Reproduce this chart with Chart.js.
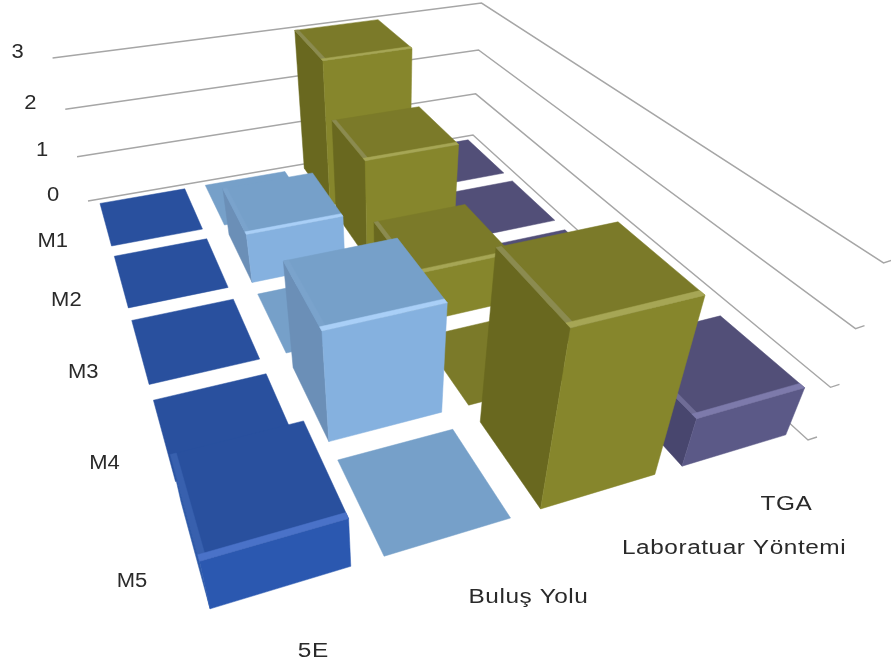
<!DOCTYPE html>
<html><head><meta charset="utf-8">
<style>html,body{margin:0;padding:0;background:#fff}canvas{display:block;filter:blur(0.5px)}</style>
<script src="https://cdn.jsdelivr.net/npm/chart.js@4/dist/chart.umd.js"></script>
</head><body><div style="width:891px;height:665px"><canvas id="c" width="891" height="665"></canvas></div>
<script>
const categories = ['M1','M2','M3','M4','M5'];
const seriesNames = ['5E','Buluş Yolu','Laboratuar Yöntemi','TGA'];
const values5E  = [0,0,0,0,0.9];
const valuesBY  = [0,1,0,2,0];
const valuesLab = [3,2,1,0,3];
const valuesTGA = [0,0,0,0,0.9];
const palette = [
 {top:'#29509e',front:'#2b58b0',left:'#2f5aa8',hi:'#4a72c8',hl:'#3860ae'},
 {top:'#76a0c9',front:'#85b1df',left:'#6b8fb7',hi:'#a9cff7',hl:'#7aa3cc'},
 {top:'#7b7a29',front:'#86862c',left:'#69681f',hi:'#a6a655',hl:'#8b8b50'},
 {top:'#524f78',front:'#5b5987',left:'#48466e',hi:'#7d7aab',hl:'#6f6c96'}
];
// camera: floor corners and vertical vanishing point
const floor = [[88,201],[473,135],[808,440],[195,628]];
const vanish = [390,1420], lift = -0.035;
const gapU = 0.1, gapV = 0.09;
function homog(q){
 const [x0,y0]=q[0],[x1,y1]=q[1],[x2,y2]=q[2],[x3,y3]=q[3];
 const dx1=x1-x2,dx2=x3-x2,dy1=y1-y2,dy2=y3-y2,sx=x0-x1+x2-x3,sy=y0-y1+y2-y3;
 const den=dx1*dy2-dx2*dy1,g=(sx*dy2-dx2*sy)/den,h=(dx1*sy-sx*dy1)/den;
 return {a:x1-x0+g*x1,b:x3-x0+h*x3,c:x0,d:y1-y0+g*y1,e:y3-y0+h*y3,f:y0,g,h};
}
const H = homog(floor);
function P(u,v,k){
 const s=u/seriesNames.length,t=v/categories.length,z=lift*k;
 const w=H.g*s+H.h*t+1+z;
 return [(H.a*s+H.b*t+H.c+z*vanish[0])/w,(H.d*s+H.e*t+H.f+z*vanish[1])/w];
}
function poly(ctx,pts,fill){
 ctx.beginPath();pts.forEach((p,i)=>i?ctx.lineTo(p[0],p[1]):ctx.moveTo(p[0],p[1]));ctx.closePath();
 ctx.fillStyle=fill;ctx.fill();ctx.strokeStyle=fill;ctx.lineWidth=0.5;ctx.stroke();
}
function label(ctx,txt,x,y,align,sx,spacing){
 ctx.save();ctx.translate(x,y);ctx.scale(sx,1);ctx.font='20px "Liberation Sans"';ctx.fillStyle='#2a2a2a';
 ctx.letterSpacing=spacing||'0px';
 ctx.textAlign=align;ctx.textBaseline='middle';ctx.fillText(txt,0,0);ctx.restore();
}
const scene3d = {
 id:'scene3d',
 beforeDatasetsDraw(chart){
  const ctx=chart.ctx,xs=chart.scales.x,ys=chart.scales.y;
  const nC=categories.length,nS=seriesNames.length;
  const maxH=ys.max;
  const hOf=val=>(ys.bottom-ys.getPixelForValue(val))/(ys.bottom-ys.top)*maxH;
  const vOf=j=>(xs.getPixelForValue(j)-xs.left)/xs.width*nC;
  // walls
  ctx.save();ctx.strokeStyle='#a6a6a6';ctx.lineWidth=1.4;
  ys.ticks.forEach(t=>{
   const k=hOf(t.value),A=P(0,0,k),B=P(nS,0,k),C=P(nS,nC,k);
   ctx.beginPath();ctx.moveTo(A[0],A[1]);ctx.lineTo(B[0],B[1]);ctx.lineTo(C[0],C[1]);ctx.lineTo(C[0]+9,C[1]-3);ctx.stroke();
   label(ctx,String(t.value),A[0]-35,A[1]-6,'center',1.1);
  });
  ctx.restore();
  // bars, back rows first and right to left within each row
  for(let j=0;j<nC;j++){
   for(let i=nS-1;i>=0;i--){
    const val=chart.data.datasets[i].data[j],c=palette[i];
    const k=hOf(val),vc=vOf(j);
    const u0=i+gapU,u1=i+1-gapU,v0=vc-.5+gapV,v1=vc+.5-gapV;
    if(k>0){
     poly(ctx,[P(u0,v0,0),P(u0,v1,0),P(u0,v1,k),P(u0,v0,k)],c.left);
     poly(ctx,[P(u0,v1,0),P(u1,v1,0),P(u1,v1,k),P(u0,v1,k)],c.front);
    }
    poly(ctx,[P(u0,v0,k),P(u1,v0,k),P(u1,v1,k),P(u0,v1,k)],c.top);
    if(k>0){
     const dv=.045,du=.035;
     poly(ctx,[P(u0,v0,k),P(u0+du,v0,k),P(u0+du,v1,k),P(u0,v1,k)],c.hl);
     poly(ctx,[P(u0,v1-dv,k),P(u1,v1-dv,k),P(u1,v1,k),P(u0,v1,k)],c.hi);
    }
   }
  }
  categories.forEach((n,j)=>{const p=P(-.08,vOf(j)*1.01,0);label(ctx,n,p[0]-32.5,p[1]+14,'center',1.1);});
  seriesNames.forEach((n,i)=>{const p=P((i+.5)*.985,nC+.2,0);label(ctx,n,p[0]+2,p[1]+21.5,'left',1.22,'0.45px');});
  return false;
 }
};
new Chart(document.getElementById('c'),{
 type:'bar',
 data:{labels:categories,datasets:[
  {label:seriesNames[0],data:values5E},{label:seriesNames[1],data:valuesBY},
  {label:seriesNames[2],data:valuesLab},{label:seriesNames[3],data:valuesTGA}]},
 options:{responsive:false,animation:false,
  plugins:{legend:{display:false},tooltip:{enabled:false}},
  scales:{x:{display:false},y:{display:false,min:0,max:3,ticks:{stepSize:1}}}},
 plugins:[scene3d]
});
</script></body></html>
